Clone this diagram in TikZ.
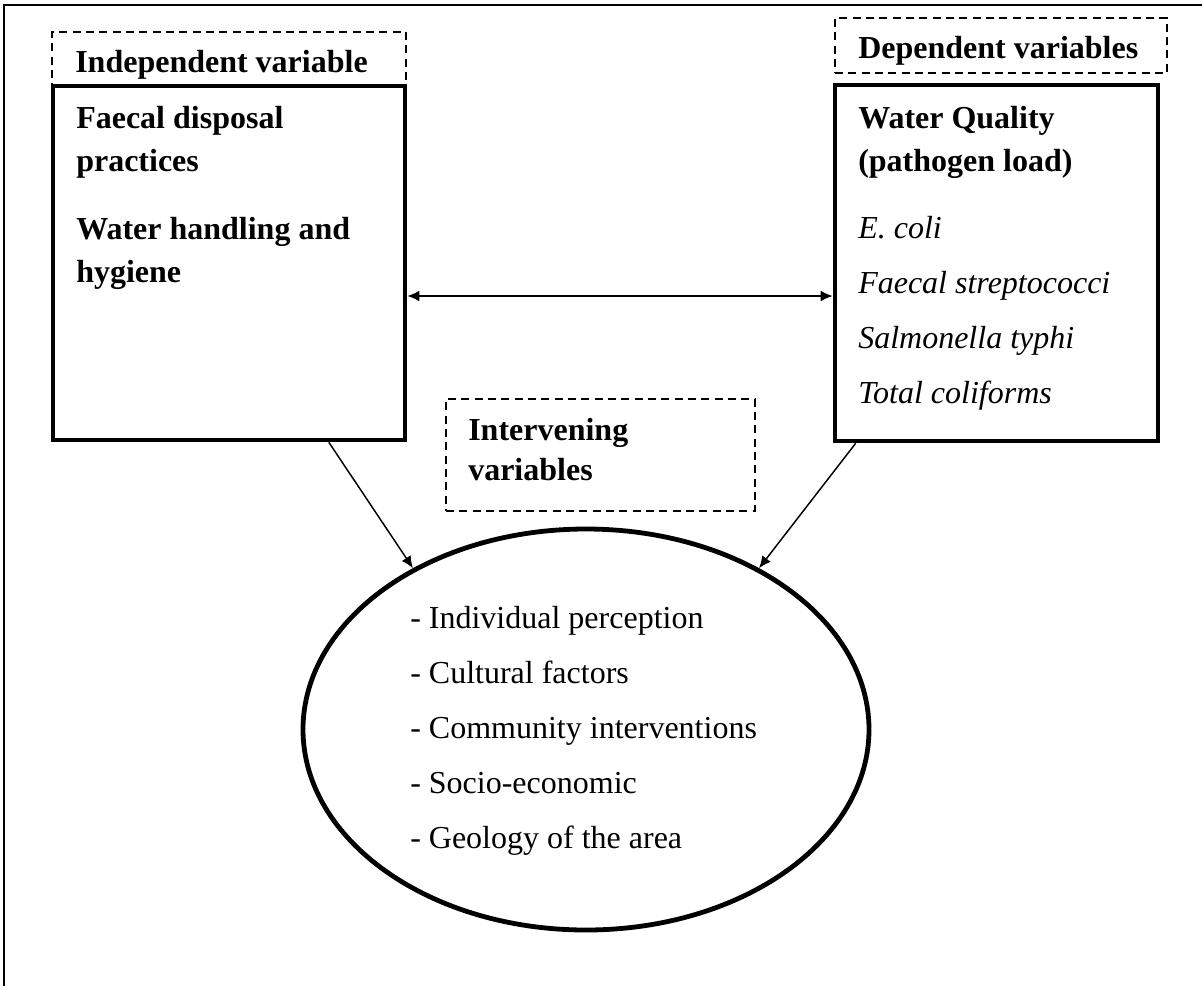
\documentclass[tikz,border=0pt]{standalone}
\usepackage{fontspec}
\setmainfont{Liberation Serif}
\usetikzlibrary{calc, shapes.geometric, arrows.meta}
\tikzset{varbox/.style={line width=3.4pt, draw=black, inner sep=0pt}}
\tikzset{labbox/.style={line width=1.3pt, draw=black, dash pattern=on 6pt off 4pt, inner sep=0pt}}
\tikzset{txt/.style={anchor=base west, inner sep=0pt, font=\fontsize{24}{29}\selectfont}}
\tikzset{btxt/.style={txt, font=\fontsize{24}{29}\selectfont\bfseries}}
\tikzset{itxt/.style={txt, font=\fontsize{24}{29}\selectfont\itshape}}
\tikzset{link/.style={line width=1.1pt, -{Latex[length=9pt, width=8pt]}}}

\begin{document}
\begin{tikzpicture}[x=0.75pt, y=-0.75pt]
    \newcommand\posL{229}
    \newcommand\posR{996.5}
    \newcommand\txtL{76}
    \newcommand\txtR{858}
    \newcommand\txtI{410}

    \useasboundingbox (0, 0) rectangle (1202, 986);
    \draw[line width=1.5pt] (4, 986) -- (4, 5) -- (1202, 5);

    \node[labbox, minimum width=265.5pt, minimum height=40.5pt] (labL) at (\posL, 59){};
    \node[varbox, fill=white, minimum width=264pt, minimum height=265.5pt] (L) at (\posL, 263){};
    \node[labbox, minimum width=249pt, minimum height=41.25pt] (labR) at (1001, 45.5){};
    \node[varbox, minimum width=242.25pt, minimum height=267pt] (R) at (\posR, 263){};
    \node[labbox, minimum width=231.75pt, minimum height=84pt] (labI) at (600.5, 455){};
    \node[ellipse, line width=3.6pt, draw=black, minimum width=424.5pt, minimum height=300.75pt, inner sep=0pt] (I) at (586, 729.5){};

    \node[btxt] (headL) at (75, 72){Independent variable};
    \node[btxt] (headR) at (\txtR, 58){Dependent variables};
    \node[btxt] (headI1) at (468, 440){Intervening};
    \node[btxt] (headI2) at (468, 480){variables};

    \node[btxt] (faecal) at (\txtL, 128){Faecal disposal};
    \node[btxt] (practices) at (\txtL, 171){practices};
    \node[btxt] (handling) at (\txtL, 239){Water handling and};
    \node[btxt] (hygiene) at (\txtL, 282){hygiene};

    \node[btxt] (quality) at (\txtR, 128){Water Quality};
    \node[btxt] (pathogen) at (\txtR, 171){(pathogen load)};
    \node[itxt] (ecoli) at (\txtR, 238){E. coli};
    \node[itxt] (strep) at (\txtR, 293){Faecal streptococci};
    \node[itxt] (salm) at (\txtR, 348){Salmonella typhi};
    \node[itxt] (coli) at (\txtR, 403){Total coliforms};

    \node[txt] (perc) at (\txtI, 628){- Individual perception};
    \node[txt] (cult) at (\txtI, 683){- Cultural factors};
    \node[txt] (comm) at (\txtI, 738){- Community interventions};
    \node[txt] (socio) at (\txtI, 793){- Socio-economic};
    \node[txt] (geol) at (\txtI, 848){- Geology of the area};

    \draw[link, {Latex[length=9pt, width=8pt]}-{Latex[length=9pt, width=8pt]}] ($(L.east)+(0, 33)$) -- ($(R.west)+(0, 33)$);
    \draw[link] ($(L.south west)!0.78!(L.south east)$) -- (I.137);
    \draw[link] ($(R.south west)!0.07!(R.south east)$) -- (I.43);
\end{tikzpicture}
\end{document}
